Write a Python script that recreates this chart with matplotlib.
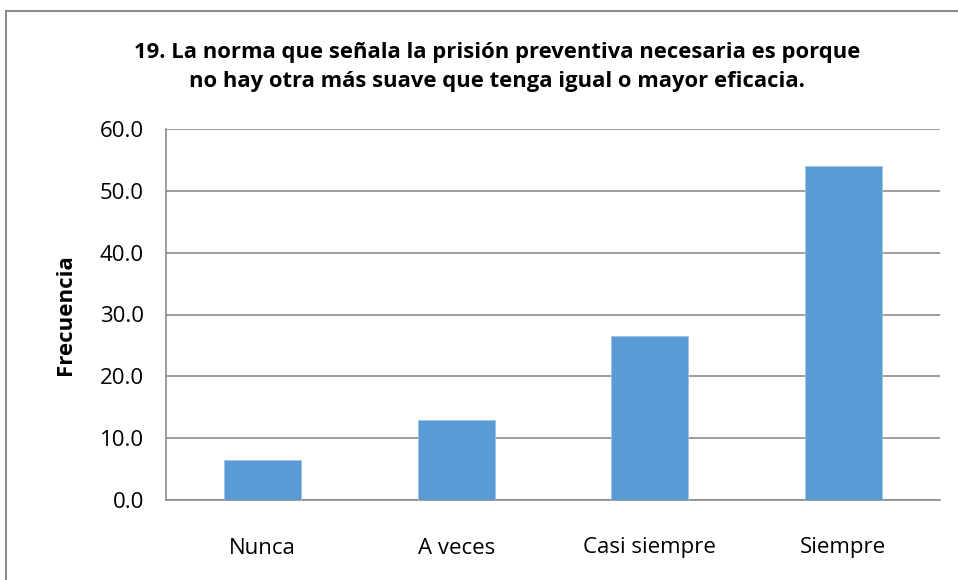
import matplotlib.pyplot as plt
from matplotlib.patches import Rectangle

categorias = ['Nunca', 'A veces', 'Casi siempre', 'Siempre']
frecuencia = [6.5, 13.0, 26.5, 54.0]
yticks = [0, 10, 20, 30, 40, 50, 60]

plt.rcParams['font.family'] = ['Open Sans', 'DejaVu Sans']

fig = plt.figure(figsize=(9.58, 5.8), dpi=100)
ax = fig.add_axes([166 / 958, 80 / 580, (940 - 166) / 958, (500 - 129) / 580])

x = range(len(categorias))
ax.bar(x, frecuencia, width=0.4, color='#5b9bd5', edgecolor='#9dc3e6', linewidth=0.6, zorder=3)

ax.set_xlim(-0.5, len(categorias) - 0.5)
ax.set_ylim(0, 60)
ax.set_yticks(yticks)
ax.set_yticklabels([f'{v:.1f}' for v in yticks], fontsize=16)
ax.set_xticks(list(x))
ax.set_xticklabels(categorias, fontsize=16)
ax.tick_params(axis='x', length=0, pad=27)
ax.tick_params(axis='y', length=0, pad=16)

ax.grid(axis='y', color='#8c8c8c', linewidth=1.2, zorder=0)
for s in ['top', 'right']:
    ax.spines[s].set_visible(False)
ax.spines['left'].set_color('#8c8c8c')
ax.spines['bottom'].set_color('#8c8c8c')
ax.spines['left'].set_linewidth(1.2)
ax.spines['bottom'].set_linewidth(1.2)

ax.set_ylabel('Frecuencia', fontsize=16, fontweight='bold', labelpad=17)

fig.text(497 / 958, 1 - 67 / 580,
         '19. La norma que señala la prisión preventiva necesaria es porque\n'
         'no hay otra más suave que tenga igual o mayor eficacia.',
         ha='center', va='center', fontsize=15.8, fontweight='bold', linespacing=1.55)

# marco exterior del grafico (cortado a la derecha y abajo)
fig.add_artist(Rectangle((6 / 958, -0.1), 1.2, 1.1 - 11 / 580, transform=fig.transFigure,
                         fill=False, edgecolor='#8c8c8c', linewidth=1.5, clip_on=False))

fig.savefig('out.png', dpi=100)
